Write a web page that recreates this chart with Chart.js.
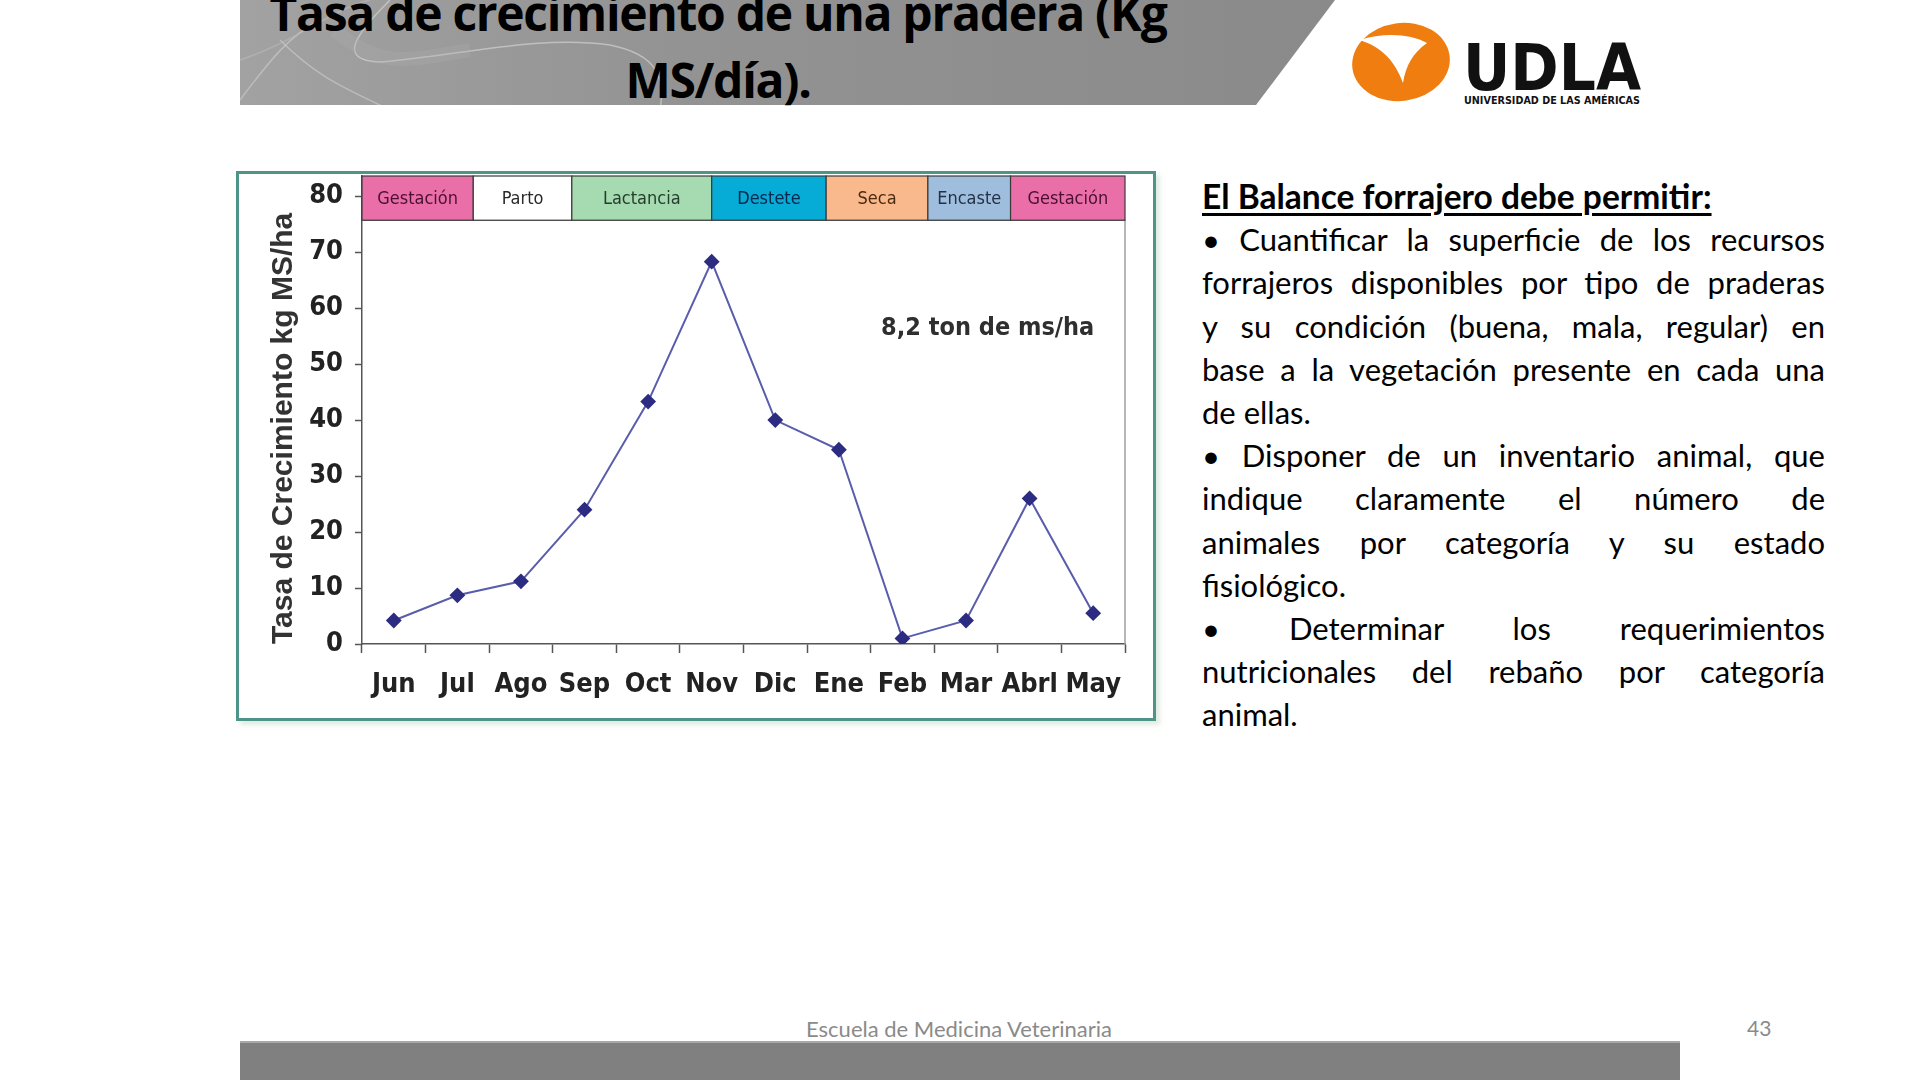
<!DOCTYPE html>
<html lang="es">
<head>
<meta charset="utf-8">
<title>Tasa de crecimiento de una pradera</title>
<script src="https://cdn.jsdelivr.net/npm/chart.js@4.4.1/dist/chart.umd.min.js"></script>
<style>
    body { margin: 0; width: 1920px; height: 1080px; background: #fff; overflow: hidden; position: relative; font-family: Lato, 'Open Sans', sans-serif; }
    .banner { position: absolute; left: 240px; top: 0; width: 1100px; height: 105px;
        clip-path: polygon(0 0, 1095px 0, 1016px 105px, 0 105px);
        background: linear-gradient(90deg, #a2a2a2 0%, #939393 40%, #8a8a8a 100%); }
    .banner svg { position: absolute; left: 0; top: 0; }
    .titulo { position: absolute; left: 240px; width: 956px; top: -21px; text-align: center;
        font-family: 'Open Sans', sans-serif; font-weight: 700; font-size: 48px; line-height: 67px;
        letter-spacing: -1.3px; color: #000; }
    .logo { position: absolute; left: 1345px; top: 15px; }
    .caja { position: absolute; left: 236px; top: 171px; width: 920px; height: 550px; box-sizing: border-box;
        border: 3px solid #4f9489; background: #fff; box-shadow: 4px 4px 4px rgba(200, 220, 200, 0.5); }
    .caja div { position: relative; width: 914px; height: 544px; }
    .texto { position: absolute; left: 1202px; top: 175px; width: 623px; font-size: 31px; line-height: 43.2px; color: #000; }
    .texto div { white-space: nowrap; }
    .j { text-align: justify; text-align-last: justify; }
    .texto .h { font-weight: 700; font-size: 33.5px; text-decoration: underline; text-underline-offset: 4px; }
    .pie { position: absolute; left: 0; width: 1918px; top: 1015px; text-align: center; font-size: 22px; color: #8a8a8a; }
    .num { position: absolute; left: 1747px; top: 1015px; font-size: 21px; color: #8a8a8a; }
    .barra { position: absolute; left: 240px; top: 1041px; width: 1440px; height: 39px; background: #808080; border-top: 2px solid #a8a8a8; }
</style>
</head>
<body>

<div class="banner">
    <svg width="1100" height="105">
        <path d="M0 100 C 30 60, 50 35, 80 20" stroke="#c8c8c8" stroke-width="1.5" fill="none" opacity="0.7"/>
        <path d="M0 60 C 60 40, 90 10, 130 0" stroke="#bbb" stroke-width="1.5" fill="none" opacity="0.6"/>
        <path d="M40 40 C 80 80, 110 90, 150 110" stroke="#c8c8c8" stroke-width="1.5" fill="none" opacity="0.7"/>
        <path d="M150 0 C 110 40, 100 60, 140 62 C 220 55, 300 35, 370 45 C 420 55, 425 80, 420 110" stroke="#d0d0d0" stroke-width="1.5" fill="none" opacity="0.7"/>
        <path d="M95 30 C 140 70, 170 60, 230 50" stroke="#b0b0b0" stroke-width="14" fill="none" opacity="0.25"/>
    </svg>
</div>
<div class="titulo">Tasa de crecimiento de una pradera (Kg<br>MS/día).</div>

<svg class="logo" width="310" height="95">
    <ellipse cx="56" cy="47" rx="49" ry="39" fill="#ef7d10" transform="rotate(-8 56 47)"/>
    <path d="M14 25 C 40 17, 66 19, 82 28 C 68 38, 61 50, 58 68 C 50 46, 36 31, 14 25 Z" fill="#fff"/>
    <text x="118" y="75" font-family="'DejaVu Sans Condensed', sans-serif" font-weight="700" font-size="64" textLength="178" lengthAdjust="spacingAndGlyphs" fill="#111">UDLA</text>
    <text x="119" y="89" font-family="'DejaVu Sans Condensed', sans-serif" font-weight="700" font-size="11" textLength="176" lengthAdjust="spacingAndGlyphs" fill="#111">UNIVERSIDAD DE LAS AMÉRICAS</text>
</svg>

<div class="caja"><div><canvas id="graficoPradera"></canvas></div></div>

<div class="texto">
    <div class="h">El Balance forrajero debe permitir:</div>
    <div class="j">• Cuantificar la superficie de los recursos</div>
    <div class="j">forrajeros disponibles por tipo de praderas</div>
    <div class="j">y su condición (buena, mala, regular) en</div>
    <div class="j">base a la vegetación presente en cada una</div>
    <div>de ellas.</div>
    <div class="j">• Disponer de un inventario animal, que</div>
    <div class="j">indique claramente el número de</div>
    <div class="j">animales por categoría y su estado</div>
    <div>fisiológico.</div>
    <div class="j">• Determinar los requerimientos</div>
    <div class="j">nutricionales del rebaño por categoría</div>
    <div>animal.</div>
</div>

<div class="pie">Escuela de Medicina Veterinaria</div>
<div class="num">43</div>
<div class="barra"></div>

<script>
// Meses del año productivo (eje X)
const meses = ['Jun', 'Jul', 'Ago', 'Sep', 'Oct', 'Nov', 'Dic', 'Ene', 'Feb', 'Mar', 'Abrl', 'May'];

// Tasa de crecimiento (kg MS/ha/día)
const tasaCrecimiento = [4.2, 8.7, 11.2, 24, 43.3, 68.3, 40, 34.7, 1, 4.2, 26, 5.5];

// Valores del eje Y que se muestran
const ticksY = [0, 10, 20, 30, 40, 50, 60, 70, 80];

// Etapas del ciclo productivo en la franja superior
const etapas = ['Gestación', 'Parto', 'Lactancia', 'Destete', 'Seca', 'Encaste', 'Gestación'];
// Límites de cada etapa en unidades del eje X (índice de mes)
const limitesEtapas = [-0.5, 1.25, 2.8, 5, 6.8, 8.4, 9.7, 11.5];
// Rango en el eje Y que ocupa la franja
const franjaY = [75.7, 83.6];

// Texto del total anual y su posición en unidades de los ejes
const totalAnual = '8,2 ton de ms/ha';
const posTotal = { x: 9.34, y: 56.4 };

// Colores de las etapas y de sus textos
const coloresEtapas = ['#ea6fa9', '#ffffff', '#a6dab0', '#06acd6', '#f9b98c', '#9fbddc', '#ea6fa9'];
const colorTextoEtapas = ['#4a1030', '#2a2a2a', '#243e2c', '#08264e', '#4a2a10', '#22324a', '#4a1030'];

const fuenteAngosta = "'DejaVu Sans Condensed', 'Liberation Sans Narrow', sans-serif";

// Plugin que dibuja la franja de etapas, el marco gris y el texto del total
const franjaEtapas = {
    id: 'franjaEtapas',
    beforeDatasetsDraw(chart) {
        const { ctx, chartArea, scales: { x, y } } = chart;
        const arriba = y.getPixelForValue(franjaY[1]);
        const abajo = y.getPixelForValue(franjaY[0]);
        ctx.save();

        // Marco gris del área de trazado
        ctx.strokeStyle = '#a0a0a0';
        ctx.lineWidth = 1.5;
        ctx.beginPath();
        ctx.moveTo(chartArea.left, abajo);
        ctx.lineTo(chartArea.right, abajo);
        ctx.lineTo(chartArea.right, chartArea.bottom);
        ctx.stroke();

        // Cada etapa es un rectángulo con su nombre centrado
        etapas.forEach((etapa, i) => {
            const x0 = x.getPixelForValue(limitesEtapas[i]);
            const x1 = x.getPixelForValue(limitesEtapas[i + 1]);
            ctx.fillStyle = coloresEtapas[i];
            ctx.fillRect(x0, arriba, x1 - x0, abajo - arriba);
            ctx.strokeStyle = '#3a3a3a';
            ctx.lineWidth = 1.2;
            ctx.strokeRect(x0, arriba, x1 - x0, abajo - arriba);
            ctx.fillStyle = colorTextoEtapas[i];
            ctx.font = `18px ${fuenteAngosta}`;
            ctx.textAlign = 'center';
            ctx.textBaseline = 'middle';
            ctx.fillText(etapa, (x0 + x1) / 2, (arriba + abajo) / 2 + 1);
        });

        // Texto con la producción total
        ctx.fillStyle = '#2f2f2f';
        ctx.font = `bold 25px ${fuenteAngosta}`;
        ctx.textAlign = 'center';
        ctx.fillText(totalAnual, x.getPixelForValue(posTotal.x), y.getPixelForValue(posTotal.y));
        ctx.restore();
    }
};

const canvasPradera = document.getElementById('graficoPradera');

new Chart(canvasPradera, {
    type: 'line',
    data: {
        labels: meses,
        datasets: [{
            label: 'Tasa de crecimiento',
            data: tasaCrecimiento,
            borderColor: '#5a5dab',
            borderWidth: 2,
            backgroundColor: '#2c2c82',
            pointBackgroundColor: '#2c2c82',
            pointBorderColor: '#2c2c82',
            pointStyle: 'rectRot',
            pointRadius: 6.5,
            tension: 0
        }]
    },
    options: {
        responsive: true,
        maintainAspectRatio: false,
        animation: false,
        layout: {
            autoPadding: false,
            padding: { left: 0, right: 28, top: 2, bottom: 0 }
        },
        scales: {
            x: {
                offset: true,
                grid: {
                    offset: true,
                    drawOnChartArea: false,
                    tickLength: 9,
                    tickWidth: 1.5,
                    color: '#555'
                },
                border: { color: '#555', width: 1.5 },
                ticks: {
                    autoSkip: false,
                    maxRotation: 0,
                    padding: 16,
                    color: '#222',
                    font: { family: fuenteAngosta, weight: 'bold', size: 27 }
                },
                afterFit(scale) {
                    scale.height = 74;
                    scale.paddingLeft = 0;
                    scale.paddingRight = 0;
                }
            },
            y: {
                min: 0,
                max: franjaY[1],
                grid: {
                    drawOnChartArea: false,
                    tickLength: 7,
                    tickWidth: 1.5,
                    color: '#555'
                },
                border: { color: '#555', width: 1.5 },
                ticks: {
                    stepSize: 10,
                    padding: 12,
                    color: '#222',
                    font: { family: fuenteAngosta, weight: 'bold', size: 27 }
                },
                // Solo se muestran los valores de 0 a 80
                afterBuildTicks(scale) {
                    scale.ticks = ticksY.map(v => ({ value: v }));
                },
                title: {
                    display: true,
                    text: 'Tasa de Crecimiento kg MS/ha',
                    color: '#333',
                    align: 'start',
                    padding: { top: 27, bottom: 0 },
                    font: { family: "'Liberation Sans', Arial, sans-serif", weight: 'bold', size: 30 }
                },
                afterFit(scale) {
                    scale.width = 123;
                    scale.paddingTop = 0;
                    scale.paddingBottom = 0;
                }
            }
        },
        plugins: {
            legend: { display: false },
            tooltip: { enabled: false }
        }
    },
    plugins: [franjaEtapas]
});
</script>
</body>
</html>
